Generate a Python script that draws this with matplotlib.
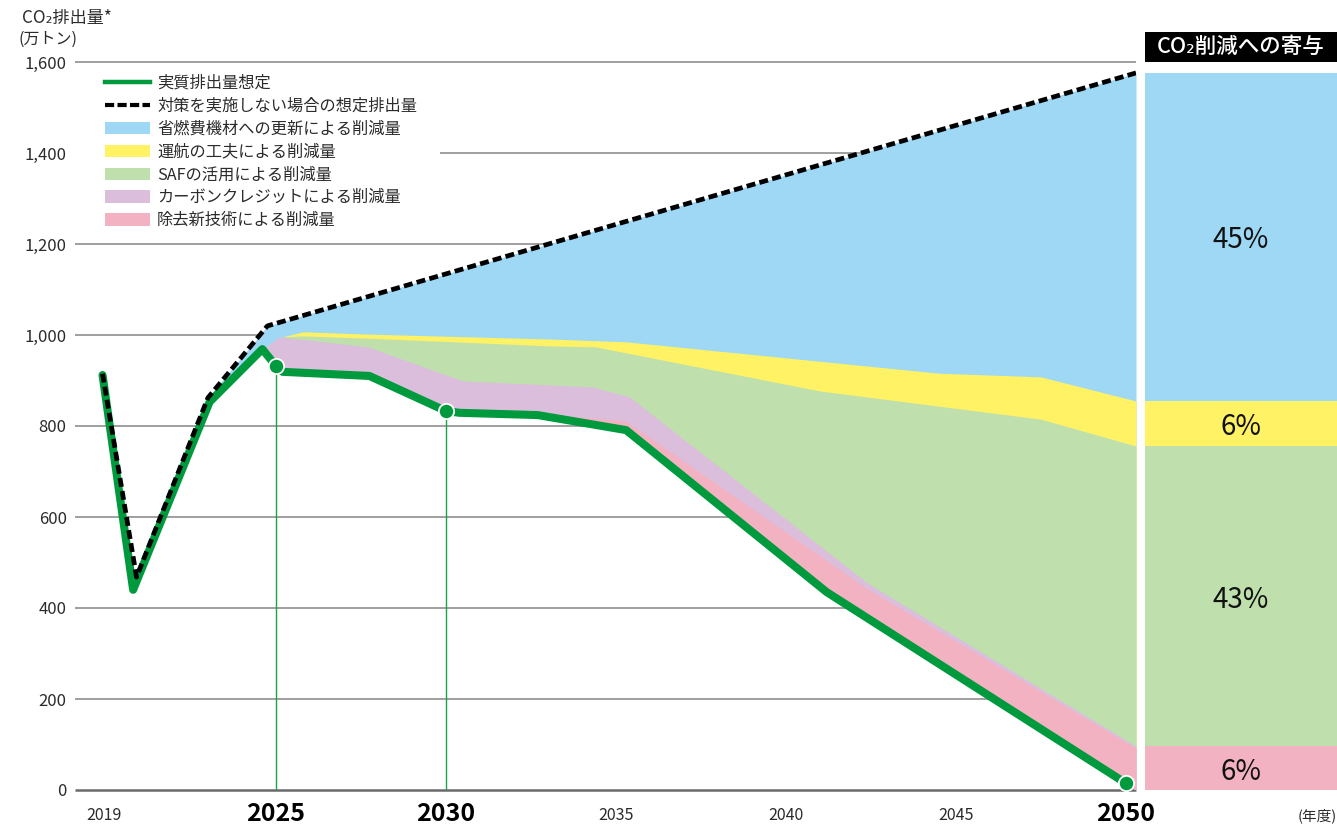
import numpy as np
import matplotlib
matplotlib.use("Agg")
import matplotlib.pyplot as plt
from matplotlib.patches import Rectangle, Patch
from matplotlib.lines import Line2D

plt.rcParams['font.family'] = ['Noto Sans CJK JP', 'DejaVu Sans']

# ---------------- data ----------------
actual_years = [2019.9, 2020.8, 2023.05, 2024.6, 2025.0, 2025.2, 2027.75, 2030.0,
                2030.4, 2032.7, 2035.3, 2041.2, 2050.0]
actual_vals = [912, 440, 853, 969, 932, 919, 910, 833, 829, 824, 791, 435, 15]

bau_years = [2019.9, 2020.9, 2023.0, 2024.75, 2050.3]
bau_vals = [915, 468, 862, 1020, 1576]

# cumulative tops of each reduction layer
pink_years = [2032.7, 2033.9, 2035.3, 2042.4, 2050.3]
pink_tops = [824, 820, 811, 442, 92]
purple_years = [2024.6, 2025.1, 2027.7, 2030.5, 2034.3, 2035.4, 2042.4, 2050.3]
purple_tops = [969, 996, 974, 899, 886, 864, 455, 96]
saf_years = [2025.2, 2025.8, 2027.7, 2033.1, 2034.4, 2041.0, 2047.5, 2050.3]
saf_tops = [996, 998, 993, 976, 974, 877, 815, 756]
ops_years = [2025.2, 2025.8, 2027.7, 2033.1, 2035.3, 2044.5, 2047.5, 2050.3]
ops_tops = [996, 1007, 1002, 991, 985, 916, 908, 855]
fleet_start_year = 2023.0
floor_end_year, floor_end_val = 2050.3, 0

marker_years = [2025, 2030, 2050]

legend_labels = ["実質排出量想定", "対策を実施しない場合の想定排出量",
                 "省燃費機材への更新による削減量", "運航の工夫による削減量",
                 "SAFの活用による削減量", "カーボンクレジットによる削減量",
                 "除去新技術による削減量"]

contribution_labels = ["6%", "43%", "6%", "45%"]  # bottom -> top

xtick_pos = [2019.95, 2025, 2030, 2035, 2040, 2045, 2050]
xtick_labels = ["2019", "2025", "2030", "2035", "2040", "2045", "2050"]
xtick_bold = ["2025", "2030", "2050"]
yticks = [0, 200, 400, 600, 800, 1000, 1200, 1400, 1600]

# ---------------- style ----------------
C_BLUE = "#9fd8f4"
C_YELLOW = "#fff264"
C_GREEN_A = "#bfdfad"
C_PURPLE = "#dbbedc"
C_PINK = "#f3b2c1"
C_LINE = "#009a3e"
C_GRID = "#858585"
C_TEXT = "#2b2b2b"

W, H = 1337, 827
fig = plt.figure(figsize=(W / 100, H / 100), dpi=100)
XL, XR = 2019.09, 2050.3
AX_H = 790 - 62
ax = fig.add_axes([75 / W, (H - 790) / H, (1136 - 75) / W, AX_H / H])
ax.set_xlim(XL, XR)
ax.set_ylim(0, 1600)
for s in ax.spines.values():
    s.set_visible(False)

base_x = np.array(actual_years + [floor_end_year])
base_y = np.array(actual_vals + [floor_end_val])


def fill_layer(years, tops, color):
    years = np.asarray(years, float)
    x = np.union1d(years, base_x)
    x = x[(x >= years[0]) & (x <= years[-1])]
    top = np.interp(x, years, tops)
    bot = np.interp(x, base_x, base_y)
    ax.fill_between(x, bot, top, color=color, lw=0, zorder=2)


# blue: everything between BAU and actual from fleet_start_year
bx = np.array([fleet_start_year] + [y for y in bau_years if y > fleet_start_year])
fill_layer(bx, np.interp(bx, bau_years, bau_vals), C_BLUE)
fill_layer(ops_years, ops_tops, C_YELLOW)
fill_layer(saf_years, saf_tops, C_GREEN_A)
fill_layer(purple_years, purple_tops, C_PURPLE)
fill_layer(pink_years, pink_tops, C_PINK)

# gridlines
ax.hlines(yticks[1:], XL, XR, colors=C_GRID, lw=1.1, zorder=0, clip_on=False)
ax.hlines([0], XL, XR, colors="#6a6a6a", lw=1.8, zorder=1, clip_on=False)

# white box behind legend
ax.add_patch(Rectangle((XL, 1226), 2029.82 - XL, 1582 - 1226, fc="white",
                       ec="none", zorder=0.5))

# vertical guide lines from markers
mvals = np.interp(marker_years, actual_years, actual_vals)
for yr, v in zip(marker_years[:2], mvals[:2]):
    ax.plot([yr, yr], [0, v], color="#1aa34a", lw=1.0, zorder=3)

# BAU dashed line & actual line
ax.plot(actual_years, actual_vals, color=C_LINE, lw=5.8, zorder=4,
        solid_joinstyle="round", solid_capstyle="round")
ax.plot(bau_years, bau_vals, color="black", lw=3.4, zorder=5,
        linestyle=(0, (1.9, 0.9)), dash_capstyle="butt")
ax.plot(marker_years, mvals, "o", ms=11, color=C_LINE, mec="white",
        mew=1.3, zorder=6, clip_on=False)

# axes ticks
ax.set_yticks(yticks)
ax.set_yticklabels([f"{v:,}" for v in yticks], fontsize=12, color=C_TEXT)
ax.set_xticks(xtick_pos)
ax.set_xticklabels([])
ax.tick_params(length=0)
ax.tick_params(axis="y", pad=6)
xtr = ax.get_xaxis_transform()
for pos, lab in zip(xtick_pos, xtick_labels):
    if lab in xtick_bold:
        ax.text(pos, -(814 - 790) / AX_H, lab, transform=xtr, ha="center", va="center",
                fontsize=18, fontweight="bold", color="black", clip_on=False)
    else:
        ax.text(pos, -(815 - 790) / AX_H, lab, transform=xtr, ha="center", va="center",
                fontsize=11.5, color=C_TEXT, clip_on=False)

# legend
handles = [Line2D([], [], color=C_LINE, lw=3.2),
           Line2D([], [], color="black", lw=3.0, linestyle=(0, (2.2, 0.8))),
           Patch(fc=C_BLUE, ec="none"), Patch(fc=C_YELLOW, ec="none"),
           Patch(fc=C_GREEN_A, ec="none"), Patch(fc=C_PURPLE, ec="none"),
           Patch(fc=C_PINK, ec="none")]
leg = ax.legend(handles, legend_labels, loc="upper left",
                bbox_to_anchor=(105 / W, 1 - 75 / H), bbox_transform=fig.transFigure,
                frameon=False, fontsize=11.7, handlelength=2.75, handleheight=0.8,
                handletextpad=0.45, labelspacing=0.36, borderpad=0, borderaxespad=0)
for t in leg.get_texts():
    t.set_color(C_TEXT)
leg.set_zorder(10)

# y-axis label
fig.text(22 / W, 1 - 18 / H, "CO₂排出量*", fontsize=12.3, color=C_TEXT, va="center", ha="left")
fig.text(18 / W, 1 - 39 / H, "(万トン)", fontsize=11.5, color=C_TEXT, va="center", ha="left")
fig.text(1298 / W, 1 - 816 / H, "(年度)", fontsize=10.5, color=C_TEXT, va="center", ha="left")

# right contribution bar
ax2 = fig.add_axes([1145 / W, (H - 790) / H, (W - 1145) / W, AX_H / H], sharey=ax)
ax2.set_xlim(0, 1)
ax2.axis("off")
levels = [0, purple_tops[-1], saf_tops[-1], ops_tops[-1], bau_vals[-1]]
bar_colors = [C_PINK, C_GREEN_A, C_YELLOW, C_BLUE]
for i, (c, lab) in enumerate(zip(bar_colors, contribution_labels)):
    lo, hi = levels[i], levels[i + 1]
    ax2.bar(0.5, hi - lo, bottom=lo, width=1.0, color=c, lw=0)
    ax2.text(0.5, (lo + hi) / 2, lab, ha="center", va="center_baseline", fontsize=20,
             color="#111111")

# title box for the bar
fig.patches.append(Rectangle((1145 / W, 1 - 62 / H), (W - 1145) / W, 30 / H,
                             transform=fig.transFigure, fc="black", ec="none"))
fig.text((1145 + W) / 2 / W, 1 - 47 / H, "CO₂削減への寄与", color="white",
         fontsize=15.5, fontweight="medium", ha="center", va="center")

fig.savefig("out.png", dpi=100)
